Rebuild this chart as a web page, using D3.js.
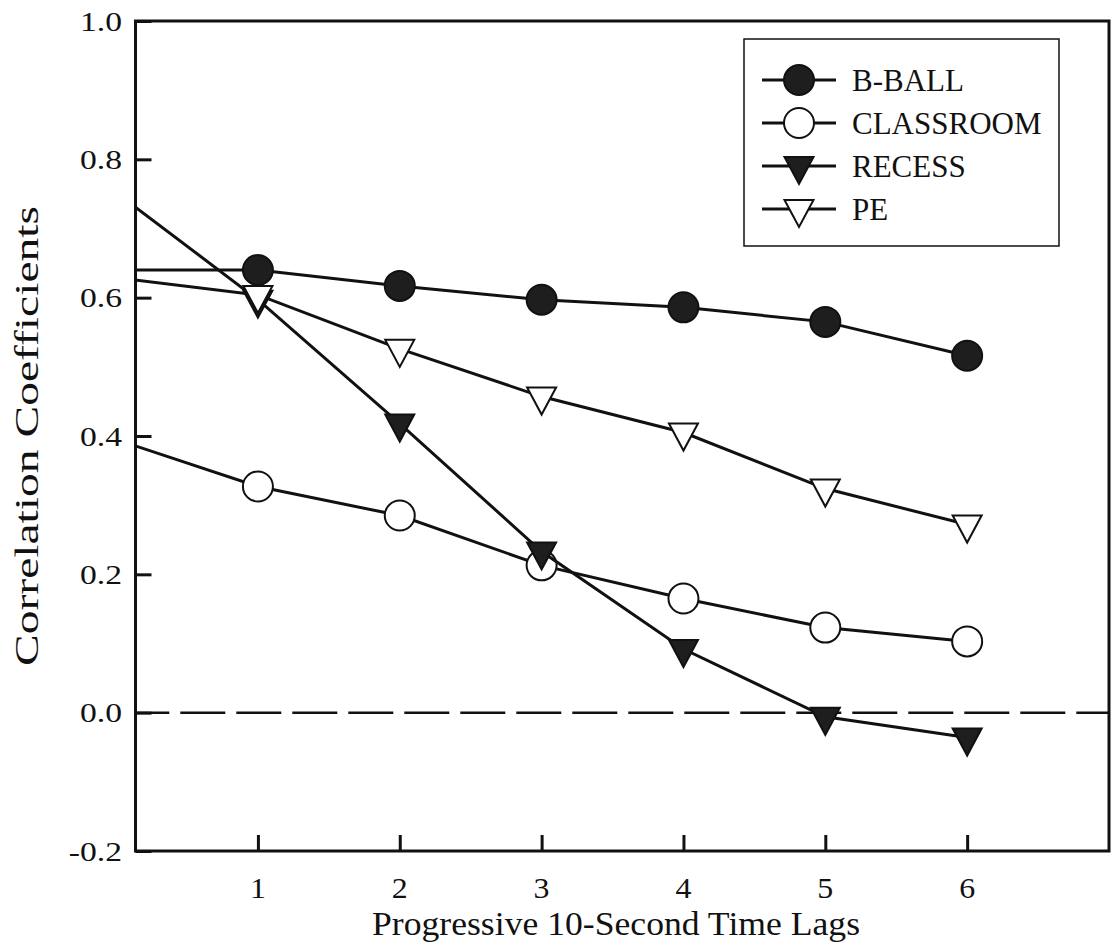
<!DOCTYPE html>
<html>
<head>
<meta charset="utf-8">
<script src="https://cdn.jsdelivr.net/npm/d3@7"></script>
<style>
  html, body { margin: 0; padding: 0; background: #fff; }
  svg { display: block; }
  text { font-family: "Liberation Serif", "Times New Roman", serif; fill: #111; }
</style>
</head>
<body>
<svg id="chart" width="1112" height="947"></svg>
<script>
// ---- data ----
const lags = [0, 1, 2, 3, 4, 5, 6];
const bball     = [0.640, 0.640, 0.617, 0.597, 0.586, 0.565, 0.516];
const classroom = [0.395, 0.327, 0.285, 0.213, 0.165, 0.123, 0.103];
const recess    = [0.752, 0.597, 0.418, 0.233, 0.092, -0.006, -0.036];
const pe        = [0.629, 0.604, 0.526, 0.457, 0.405, 0.324, 0.272];
const seriesNames = ["B-BALL", "CLASSROOM", "RECESS", "PE"];
const xTicks = [1, 2, 3, 4, 5, 6];
const yTicks = [-0.2, 0.0, 0.2, 0.4, 0.6, 0.8, 1.0];
const xTitle = "Progressive 10-Second Time Lags";
const yTitle = "Correlation Coefficients";

(function () {
const seriesValues = [bball, classroom, recess, pe];
const seriesStyle = [
  { shape: "circle",   fill: "#1e1e1e" },
  { shape: "circle",   fill: "#ffffff" },
  { shape: "triangle", fill: "#1e1e1e" },
  { shape: "triangle", fill: "#ffffff" }
];

// ---- layout ----
const svg = d3.select("#chart");
const pLeft = 135.5, pRight = 1109, pTop = 21, pBottom = 851;
const x = d3.scaleLinear().domain([0.137, 7]).range([pLeft, pRight]);
const y = d3.scaleLinear().domain([-0.2, 1.0]).range([pBottom, pTop]);

const ink = "#111";

function widen(sel, factor) {
  sel.each(function () {
    const w = this.getComputedTextLength();
    d3.select(this).attr("textLength", w * factor).attr("lengthAdjust", "spacingAndGlyphs");
  });
}

svg.append("defs").append("clipPath").attr("id", "plotclip")
  .append("rect").attr("x", pLeft).attr("y", pTop)
  .attr("width", pRight - pLeft).attr("height", pBottom - pTop);

// zero dashed line
svg.append("line")
  .attr("x1", x(x.domain()[0])).attr("x2", x(x.domain()[1]))
  .attr("y1", y(0)).attr("y2", y(0))
  .attr("stroke", ink).attr("stroke-width", 2.5)
  .attr("stroke-dasharray", "45,11").attr("stroke-dashoffset", 11.2);

// axes (inner ticks)
const yAxis = d3.axisRight(y).tickValues(yTicks).tickSize(16).tickFormat("");
const xAxis = d3.axisTop(x).tickValues(xTicks).tickSize(16).tickFormat("");
const gy = svg.append("g").attr("transform", `translate(${pLeft},0)`).call(yAxis);
const gx = svg.append("g").attr("transform", `translate(0,${pBottom})`).call(xAxis);
[gy, gx].forEach(g => {
  g.select(".domain").remove();
  g.selectAll(".tick line").attr("stroke", ink).attr("stroke-width", 3);
});

// frame
svg.append("rect")
  .attr("x", pLeft).attr("y", pTop)
  .attr("width", pRight - pLeft).attr("height", pBottom - pTop)
  .attr("fill", "none").attr("stroke", ink).attr("stroke-width", 3);

// tick labels
const yl = svg.append("g").selectAll("text").data(yTicks).join("text")
  .attr("x", 122).attr("y", d => y(d)).attr("dy", "0.35em")
  .attr("text-anchor", "end").attr("font-size", 28)
  .text(d => d3.format(".1f")(d).replace("\u2212", "-"));
widen(yl, 1.2);

const xl = svg.append("g").selectAll("text").data(xTicks).join("text")
  .attr("x", d => x(d)).attr("y", 898)
  .attr("text-anchor", "middle").attr("font-size", 29)
  .text(d => d);
widen(xl, 1.1);

// axis titles
const xt = svg.append("text")
  .attr("x", 616).attr("y", 935)
  .attr("text-anchor", "middle").attr("font-size", 34)
  .text(xTitle);
xt.attr("textLength", 488).attr("lengthAdjust", "spacingAndGlyphs");

const yt = svg.append("text")
  .attr("transform", `translate(38,${y(0.4)}) rotate(-90)`)
  .attr("text-anchor", "middle").attr("font-size", 34)
  .text(yTitle);
yt.attr("textLength", 460).attr("lengthAdjust", "spacingAndGlyphs");

// marker helpers
const triW = 29, triH = 27;
function triPath() {
  return `M${-triW / 2},${-triH / 3}L${triW / 2},${-triH / 3}L0,${2 * triH / 3}Z`;
}
function drawMarker(g, style) {
  if (style.shape === "circle") {
    g.append("circle").attr("r", 15)
      .attr("fill", style.fill).attr("stroke", ink).attr("stroke-width", 2);
  } else {
    g.append("path").attr("d", triPath())
      .attr("fill", style.fill).attr("stroke", ink).attr("stroke-width", 2)
      .attr("stroke-linejoin", "miter");
  }
}

// series
const line = d3.line().x(d => x(d[0])).y(d => y(d[1]));
const plot = svg.append("g").attr("clip-path", "url(#plotclip)");
seriesValues.forEach((vals, i) => {
  const pts = lags.map((l, j) => [l, vals[j]]);
  const g = plot.append("g");
  g.append("path").datum(pts).attr("d", line)
    .attr("fill", "none").attr("stroke", ink).attr("stroke-width", 3);
  pts.forEach(p => {
    const m = g.append("g").attr("transform", `translate(${x(p[0])},${y(p[1])})`);
    drawMarker(m, seriesStyle[i]);
  });
});

// legend
const lg = svg.append("g");
lg.append("rect").attr("x", 744).attr("y", 39).attr("width", 315).attr("height", 207)
  .attr("fill", "#fff").attr("stroke", ink).attr("stroke-width", 1.5);
seriesNames.forEach((name, i) => {
  const cy = 80 + i * 43;
  const row = lg.append("g").attr("transform", `translate(0,${cy})`);
  row.append("line").attr("x1", 762).attr("x2", 836).attr("y1", 0).attr("y2", 0)
    .attr("stroke", ink).attr("stroke-width", 3);
  const m = row.append("g").attr("transform", "translate(799,0)");
  drawMarker(m, seriesStyle[i]);
  row.append("text").attr("x", 852).attr("y", 11).attr("font-size", 31).text(name);
});
})();
</script>
</body>
</html>
